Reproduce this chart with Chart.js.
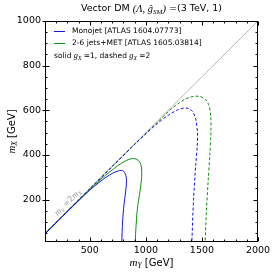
<!DOCTYPE html>
<html>
<head>
<meta charset="utf-8">
<script src="https://cdn.jsdelivr.net/npm/chart.js@4/dist/chart.umd.min.js"></script>
<style>
  html, body { margin: 0; padding: 0; background: #fff; }
  #wrap { width: 274px; height: 274px; }
</style>
</head>
<body>
<div id="wrap"><canvas id="chart" width="274" height="274"></canvas></div>
<script>
// monojet, g_X = 1 (solid blue)
var monoSolidX = [100, 200, 300, 400, 500, 580, 650, 700, 750, 780, 800, 815, 825, 826, 818, 805, 792, 785];
var monoSolidY = [46, 96, 146, 195, 243, 276, 302, 317, 328, 331, 328, 316, 298, 270, 230, 180, 100, 10];
// 2-6 jets + MET, g_X = 1 (solid green)
var jetsSolidX = [100, 200, 300, 400, 500, 600, 680, 750, 820, 880, 920, 945, 960, 962, 948, 922, 904];
var jetsSolidY = [47, 97, 147, 196, 245, 292, 325, 352, 374, 384, 380, 368, 346, 300, 240, 150, 10];
// monojet, g_X = 2 (dashed blue)
var monoDashX = [100, 300, 500, 700, 900, 1000, 1100, 1200, 1280, 1340, 1380, 1420, 1445, 1460, 1458, 1445, 1425, 1410];
var monoDashY = [48, 148, 248, 348, 447, 495, 540, 578, 601, 610, 608, 592, 558, 500, 440, 360, 200, 10];
// 2-6 jets + MET, g_X = 2 (dashed green)
var jetsDashX = [100, 300, 500, 700, 900, 1100, 1200, 1280, 1350, 1420, 1480, 1530, 1560, 1578, 1580, 1570, 1555, 1540, 1529];
var jetsDashY = [49, 149, 249, 349, 448, 545, 594, 627, 650, 662, 662, 650, 625, 578, 500, 400, 280, 150, 10];
// m_Y = 2 m_X reference line
var diagX = [100, 2000];
var diagY = [50, 1000];

var xMajor = [500, 1000, 1500, 2000];
var xMinor = [200, 300, 400, 600, 700, 800, 900, 1100, 1200, 1300, 1400, 1600, 1700, 1800, 1900];
var yMajor = [200, 400, 600, 800, 1000];
var yMinor = [50, 100, 150, 250, 300, 350, 450, 500, 550, 650, 700, 750, 850, 900, 950];

var BLUE = '#1515e0';
var GREEN = '#109010';
var SANS = '"DejaVu Sans", sans-serif';
var SERIF = '"Liberation Serif", "DejaVu Serif", serif';

function pts(xs, ys) {
  return xs.map(function (x, i) { return { x: x, y: ys[i] }; });
}

// text pieces: [text, style] with style n normal, i italic, s subscript
function fontFor(style, size) {
  if (style === 'i') return 'italic ' + (size * 1.1) + 'px ' + SERIF;
  if (style === 's') return 'italic ' + (size * 0.75) + 'px ' + SERIF;
  return size + 'px ' + SANS;
}
function richWidth(ctx, parts, size) {
  var w = 0;
  parts.forEach(function (p) {
    ctx.font = fontFor(p[1], size);
    w += ctx.measureText(p[0]).width;
  });
  return w;
}
function drawRich(ctx, parts, x, y, size, align) {
  var w = richWidth(ctx, parts, size);
  var cx = align === 'center' ? x - w / 2 : x;
  ctx.textBaseline = 'middle';
  ctx.textAlign = 'left';
  parts.forEach(function (p) {
    ctx.font = fontFor(p[1], size);
    var dy = p[1] === 's' ? size * 0.3 : 0;
    ctx.fillText(p[0], cx, y + dy);
    cx += ctx.measureText(p[0]).width;
  });
}

var decorations = {
  id: 'decorations',
  afterDraw: function (chart) {
    var ctx = chart.ctx;
    var ca = chart.chartArea;
    var xs = chart.scales.x;
    var ys = chart.scales.y;
    ctx.save();

    // frame
    ctx.strokeStyle = '#000';
    ctx.lineWidth = 1;
    var l = Math.round(ca.left) + 0.5, r = Math.round(ca.right) - 0.5;
    var t = Math.round(ca.top) + 0.5, b = Math.round(ca.bottom) - 0.5;
    ctx.strokeRect(l, t, r - l, b - t);

    // ticks, inside on all four sides
    ctx.beginPath();
    function xt(v, len) {
      var p = Math.round(xs.getPixelForValue(v)) + 0.5;
      ctx.moveTo(p, b); ctx.lineTo(p, b - len);
      ctx.moveTo(p, t); ctx.lineTo(p, t + len);
    }
    function yt(v, len, out) {
      var p = Math.round(ys.getPixelForValue(v)) + 0.5;
      ctx.moveTo(l - out, p); ctx.lineTo(l + len, p);
      ctx.moveTo(r, p); ctx.lineTo(r - len, p);
    }
    xMajor.forEach(function (v) { xt(v, 4); });
    xMinor.forEach(function (v) { xt(v, 2); });
    yMajor.forEach(function (v) { yt(v, 4, 3); });
    yMinor.forEach(function (v) { yt(v, 2, 0); });
    ctx.stroke();

    ctx.fillStyle = '#000';
    // title
    drawRich(ctx, [['Vector DM ', 'n'], ['(Λ, ĝ', 'i'], ['SM', 's'], [')', 'i'], [' =(3 TeV, 1)', 'n']],
      (ca.left + ca.right) / 2, 9, 9.5, 'center');
    // axis titles
    drawRich(ctx, [['m', 'i'], ['Y', 's'], [' [GeV]', 'n']], (ca.left + ca.right) / 2, 263, 10, 'center');
    ctx.save();
    ctx.translate(12, (ca.top + ca.bottom) / 2);
    ctx.rotate(-Math.PI / 2);
    drawRich(ctx, [['m', 'i'], ['X', 's'], [' [GeV]', 'n']], 0, 0, 10, 'center');
    ctx.restore();

    // legend
    var lx = ca.left + 9;
    [[BLUE, 'Monojet [ATLAS 1604.07773]', 31], [GREEN, '2-6 jets+MET [ATLAS 1605.03814]', 43]].forEach(function (row) {
      ctx.strokeStyle = row[0];
      ctx.beginPath();
      ctx.moveTo(lx, row[2] + 0.5); ctx.lineTo(lx + 11, row[2] + 0.5);
      ctx.stroke();
      ctx.fillStyle = '#000';
      drawRich(ctx, [[row[1], 'n']], lx + 18, row[2], 7.5, 'left');
    });
    drawRich(ctx, [['solid ', 'n'], ['g', 'i'], ['X', 's'], [' =1, dashed ', 'n'], ['g', 'i'], ['X', 's'], [' =2', 'n']],
      lx, 56, 7.5, 'left');

    // label along the diagonal
    var x1 = xs.getPixelForValue(diagX[0]), y1 = ys.getPixelForValue(diagY[0]);
    var x2 = xs.getPixelForValue(diagX[1]), y2 = ys.getPixelForValue(diagY[1]);
    var ang = Math.atan2(y2 - y1, x2 - x1);
    var px = xs.getPixelForValue(340), py = ys.getPixelForValue(170);
    ctx.save();
    ctx.translate(px - 4, py - 4);
    ctx.rotate(ang);
    ctx.fillStyle = '#999';
    drawRich(ctx, [['m', 'i'], ['Y', 's'], [' =2', 'n'], ['m', 'i'], ['X', 's']], 0, 0, 8, 'center');
    ctx.restore();

    ctx.restore();
  }
};

function lineSet(xs, ys, color, dash, order) {
  return {
    data: pts(xs, ys),
    showLine: true,
    borderColor: color,
    borderWidth: 1,
    borderDash: dash,
    pointRadius: 0,
    fill: false,
    tension: 0.3,
    order: order
  };
}

function plainTick(v) { return String(v); }

new Chart(document.getElementById('chart'), {
  type: 'scatter',
  data: {
    datasets: [
      lineSet(diagX, diagY, '#b4b4b4', [], 10),
      lineSet(monoSolidX, monoSolidY, BLUE, [], 1),
      lineSet(jetsSolidX, jetsSolidY, GREEN, [], 1),
      lineSet(monoDashX, monoDashY, BLUE, [3, 2], 1),
      lineSet(jetsDashX, jetsDashY, GREEN, [3, 2], 1)
    ]
  },
  plugins: [decorations],
  options: {
    responsive: false,
    animation: false,
    events: [],
    layout: { padding: { top: 21, right: 16, left: 0, bottom: 0 } },
    plugins: { legend: { display: false }, tooltip: { enabled: false }, title: { display: false } },
    scales: {
      x: {
        type: 'linear',
        min: 100,
        max: 2000,
        grid: { display: false, drawTicks: false, tickLength: 0 },
        border: { display: false },
        afterBuildTicks: function (s) { s.ticks = xMajor.map(function (v) { return { value: v }; }); },
        afterFit: function (s) { s.height = 32; },
        ticks: { color: '#000', font: { family: 'DejaVu Sans', size: 9.5 }, padding: 3, maxRotation: 0, callback: plainTick }
      },
      y: {
        type: 'linear',
        min: 10,
        max: 1000,
        grid: { display: false, drawTicks: false, tickLength: 0 },
        border: { display: false },
        afterBuildTicks: function (s) { s.ticks = yMajor.map(function (v) { return { value: v }; }); },
        afterFit: function (s) { s.width = 45; },
        ticks: { color: '#000', font: { family: 'DejaVu Sans', size: 9.5 }, padding: 4, callback: plainTick }
      }
    }
  }
});
</script>
</body>
</html>
